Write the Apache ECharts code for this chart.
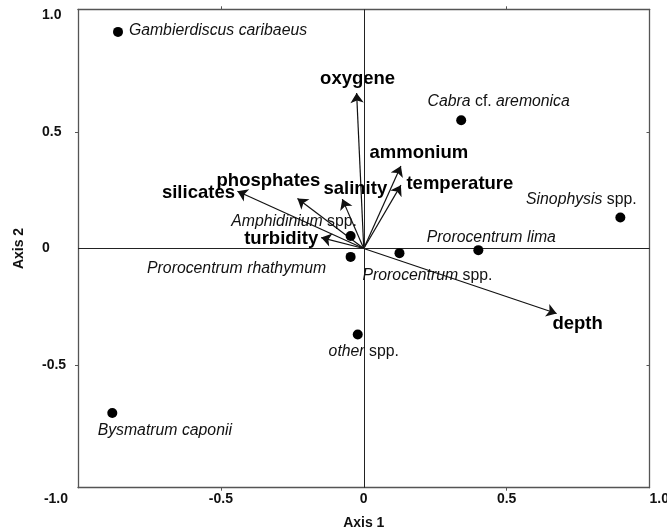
<!DOCTYPE html>
<html><head><meta charset="utf-8">
<script src="https://cdn.jsdelivr.net/npm/echarts@6/dist/echarts.min.js"></script>
<style>html,body{margin:0;padding:0;background:#fff}#c{width:667px;height:529px}</style>
</head><body><div id="c"></div>
<script>
// ---- data ----
const speciesNames = ['Gambierdiscus caribaeus','Cabra cf. aremonica','Sinophysis spp.','Prorocentrum lima','Amphidinium spp.','Prorocentrum rhathymum','Prorocentrum spp.','other spp.','Bysmatrum caponii'];
const speciesAxis1 = [-0.86, 0.341, 0.898, 0.401, -0.046, -0.046, 0.125, -0.021, -0.88];
const speciesAxis2 = [0.93, 0.551, 0.133, -0.007, 0.054, -0.036, -0.02, -0.369, -0.706];
const variableNames = ['oxygene','ammonium','temperature','salinity','phosphates','silicates','turbidity','depth'];
const variableAxis1 = [-0.025, 0.13, 0.13, -0.075, -0.232, -0.442, -0.149, 0.675];
const variableAxis2 = [0.668, 0.354, 0.272, 0.212, 0.215, 0.246, 0.047, -0.279];
const xTickLabels = [-1, -0.5, 0, 0.5, 1];
const yTickLabels = [-0.5, 0, 0.5, 1];
const frameTicks = [-0.5, 0.5];

// ---- layout (label offsets in px, kept apart from data) ----
const speciesLabelOffset = [[100,-1],[37.5,-18.3],[-39,-18],[13,-13],[-56.5,-14],[-114,11.6],[28,22],[6,17],[52.5,17.3]];
const variableLabelOffset = [[1,-14],[18,-13],[59,-1],[13,-10],[-29,-18],[-39,2],[-40,1],[21,10]];

const FONT = '"Liberation Sans", Arial, Helvetica, sans-serif';
const fmtTick = v => (v === 0 ? '0' : v.toFixed(1));
const richName = name => name.split(' ').map(w => (w === 'cf.' || w === 'spp.') ? '{n|' + w + '}' : '{i|' + w + '}').join(' ');

const chart = echarts.init(document.getElementById('c'), null, {renderer: 'canvas'});
const frameLine = {show: true, onZero: false, lineStyle: {color: '#555', width: 1.3}};
const option = {
  animation: false,
  backgroundColor: '#fff',
  grid: {left: 78, right: 17.5, top: 9.3, bottom: 41.3, containLabel: false, outerBoundsMode: 'none'},
  xAxis: [{
    type: 'value', min: -1, max: 1, position: 'bottom',
    axisLine: frameLine,
    axisTick: {show: true, length: 3, customValues: frameTicks, lineStyle: {color: '#555'}},
    splitLine: {show: false},
    axisLabel: {
      customValues: xTickLabels, margin: 4, color: '#111', fontFamily: FONT, fontSize: 14, fontWeight: 'bold',
      alignMinLabel: 'right', alignMaxLabel: 'left',
      formatter: v => (v === -1 ? '{a|-1.0}' : fmtTick(v)),
      rich: {a: {fontFamily: FONT, fontSize: 14, fontWeight: 'bold', color: '#111', padding: [0, 10, 0, 0]}}
    },
    name: 'Axis 1', nameLocation: 'middle', nameGap: 28,
    nameTextStyle: {fontFamily: FONT, fontSize: 14, fontWeight: 'bold', color: '#111'}
  }, {
    type: 'value', min: -1, max: 1, position: 'top',
    axisLine: frameLine,
    axisTick: {show: true, length: 3, customValues: frameTicks, lineStyle: {color: '#555'}},
    axisLabel: {show: false}, splitLine: {show: false}
  }],
  yAxis: [{
    type: 'value', min: -1.027, max: 1.027, position: 'left',
    axisLine: frameLine,
    axisTick: {show: true, length: 3, customValues: frameTicks, lineStyle: {color: '#555'}},
    splitLine: {show: false},
    axisLabel: {
      customValues: yTickLabels, margin: 36, align: 'left', color: '#111',
      fontFamily: FONT, fontSize: 14, fontWeight: 'bold', formatter: fmtTick
    },
    name: 'Axis 2', nameLocation: 'middle', nameGap: 52,
    nameTextStyle: {fontFamily: FONT, fontSize: 14, fontWeight: 'bold', color: '#111'}
  }, {
    type: 'value', min: -1.027, max: 1.027, position: 'right',
    axisLine: frameLine,
    axisTick: {show: true, length: 3, inside: true, customValues: frameTicks, lineStyle: {color: '#555'}},
    axisLabel: {show: false}, splitLine: {show: false}
  }],
  series: [
    {
      type: 'lines', coordinateSystem: 'cartesian2d', xAxisIndex: 0, yAxisIndex: 0,
      data: variableNames.map((n, i) => ({coords: [[0, 0], [variableAxis1[i], variableAxis2[i]]]})),
      symbol: ['none', 'arrow'], symbolSize: 10, symbolOffset: [[0, 0], [0, 5]],
      lineStyle: {color: '#111', width: 1.2, opacity: 1, curveness: 0},
      silent: true, z: 3
    },
    {
      type: 'scatter', xAxisIndex: 0, yAxisIndex: 0,
      data: variableNames.map((n, i) => ({name: n, value: [variableAxis1[i], variableAxis2[i]],
        label: {offset: variableLabelOffset[i]}})),
      symbolSize: 1, itemStyle: {color: 'transparent', opacity: 1},
      label: {show: true, position: 'inside', formatter: p => p.name, color: '#000', opacity: 1,
        fontFamily: FONT, fontSize: 18.5, fontWeight: 'bold'},
      silent: true, z: 4
    },
    {
      type: 'scatter', xAxisIndex: 0, yAxisIndex: 0,
      data: speciesNames.map((n, i) => ({name: n, value: [speciesAxis1[i], speciesAxis2[i]],
        label: {offset: speciesLabelOffset[i]}})),
      symbol: 'circle', symbolSize: 10, itemStyle: {color: '#000', opacity: 1},
      label: {show: true, position: 'inside', formatter: p => richName(p.name), color: '#111', opacity: 1,
        fontFamily: FONT, fontSize: 15.8,
        rich: {
          i: {fontFamily: FONT, fontSize: 15.8, fontStyle: 'italic', color: '#111'},
          n: {fontFamily: FONT, fontSize: 15.8, fontStyle: 'normal', color: '#111'}
        }},
      markLine: {
        silent: true, symbol: ['none', 'none'], label: {show: false},
        lineStyle: {color: '#222', width: 1, type: 'solid'},
        data: [{xAxis: 0}, {yAxis: 0}]
      },
      silent: true, z: 5
    }
  ]
};
chart.setOption(option);
</script>
</body></html>
